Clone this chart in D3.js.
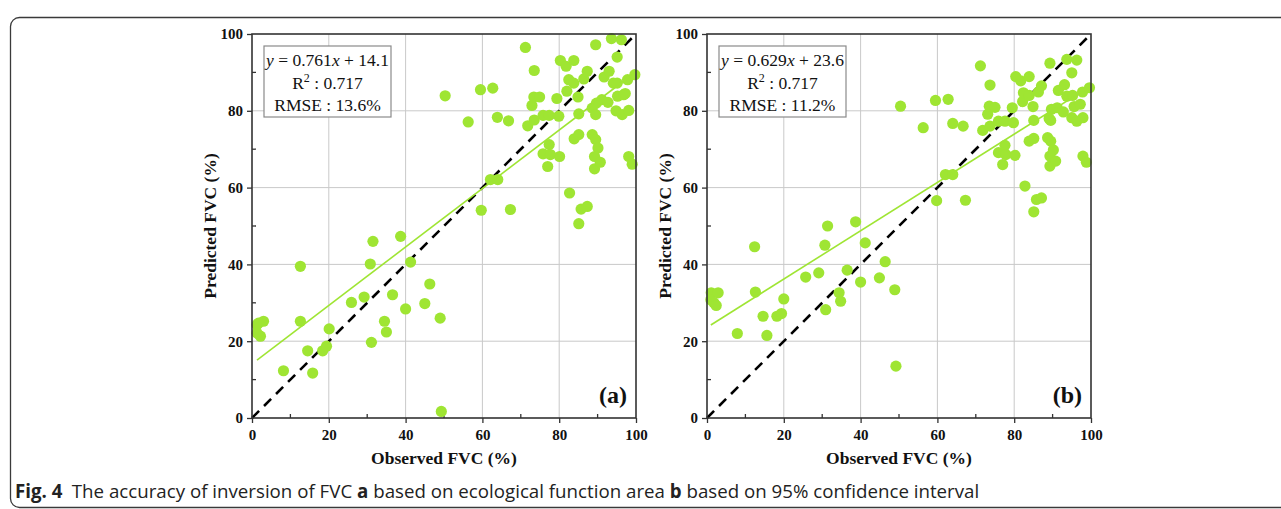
<!DOCTYPE html>
<html>
<head>
<meta charset="utf-8">
<script src="https://cdn.jsdelivr.net/npm/d3@7"></script>
<style>
  html, body { margin: 0; padding: 0; background: #fff; }
  svg { display: block; }
</style>
</head>
<body>
<svg id="chart" width="1281" height="509"></svg>
<script>
// Panel (a): ecological function area
const obsA = [1.3, 3.0, 2.2, 1.3, 1.7, 12.6, 12.6, 8.2, 14.5, 15.8, 18.4, 19.4, 20.1, 25.9, 29.2,
  30.8, 31.5, 31.1, 34.5, 35.0, 36.6, 38.7, 41.3, 40.0, 45.0, 46.3, 49.0, 49.3, 50.3, 56.3,
  59.5, 59.7, 62.7, 62.1, 64.0, 63.9, 66.8, 67.3, 71.2, 71.8, 72.9, 73.4, 73.5, 73.5, 74.9,
  75.8, 75.8, 77.0, 77.4, 77.4, 77.7, 79.4, 79.9, 80.1, 80.3, 81.8, 82.0, 82.5, 82.7, 83.8,
  83.8, 83.9, 84.9, 85.1, 85.1, 85.1, 85.7, 86.4, 87.3, 87.3, 88.6, 88.6, 89.5, 89.7, 89.5,
  89.5, 90.1, 89.2, 89.2, 90.7, 91.1, 91.7, 92.7, 93.0, 93.6, 94.1, 95.1, 95.1, 94.8, 95.2,
  96.2, 96.4, 96.8, 97.2, 97.8, 98.1, 98.1, 99.0, 99.7];
const predA = [24.3, 25.2, 21.3, 22.1, 24.7, 39.5, 25.2, 12.3, 17.5, 11.7, 17.5, 18.7, 23.2, 30.1, 31.5,
  40.1, 46.0, 19.7, 25.2, 22.4, 32.1, 47.3, 40.6, 28.4, 29.8, 34.9, 26.0, 1.7, 83.9, 77.1,
  85.5, 54.1, 85.9, 62.1, 62.1, 78.3, 77.4, 54.3, 96.5, 76.1, 81.4, 83.6, 90.5, 77.6, 83.6,
  78.8, 68.8, 65.5, 78.8, 71.2, 68.6, 83.2, 78.6, 68.1, 93.1, 91.6, 85.1, 88.1, 58.6, 93.1,
  87.2, 72.7, 83.6, 79.2, 73.8, 50.6, 54.4, 88.3, 55.1, 90.3, 73.8, 80.7, 97.2, 82.0, 79.0,
  72.5, 70.3, 68.1, 64.9, 66.6, 82.9, 88.8, 82.2, 90.3, 98.8, 87.2, 94.0, 87.2, 80.0, 83.8,
  98.5, 79.0, 84.2, 84.5, 88.1, 80.1, 68.1, 66.1, 89.4];

// Panel (b): 95% confidence interval
const obsB = [1.1, 1.8, 1.0, 2.4, 2.9, 12.4, 12.6, 7.9, 14.6, 15.6, 18.2, 19.4, 20.0, 25.7, 29.1,
  30.7, 31.4, 30.9, 34.4, 34.8, 36.5, 38.7, 41.2, 40.0, 44.9, 46.4, 48.9, 49.2, 50.4, 56.3,
  59.5, 59.8, 62.8, 62.1, 64.0, 64.0, 66.7, 67.3, 71.2, 71.8, 73.1, 73.5, 73.7, 73.7, 75.0,
  75.9, 75.9, 77.0, 77.6, 77.6, 77.8, 79.5, 79.8, 80.2, 80.4, 81.7, 82.2, 82.4, 82.8, 83.9,
  83.9, 83.9, 84.9, 85.1, 85.1, 85.1, 85.8, 86.3, 87.1, 87.1, 88.7, 89.1, 89.3, 89.7, 89.5,
  89.5, 90.2, 89.3, 89.3, 90.8, 91.2, 91.5, 92.8, 93.1, 93.7, 93.7, 95.0, 95.2, 95.0, 95.6,
  96.3, 96.3, 97.2, 97.8, 97.9, 97.9, 98.8, 99.6];
const predB = [32.6, 30.0, 30.8, 29.3, 32.6, 44.6, 32.8, 22.0, 26.5, 21.5, 26.5, 27.2, 31.0, 36.7, 37.8,
  45.0, 50.0, 28.2, 32.6, 30.4, 38.5, 51.1, 45.6, 35.4, 36.5, 40.7, 33.4, 13.5, 81.2, 75.6,
  82.7, 56.6, 83.0, 63.4, 63.4, 76.7, 76.0, 56.7, 91.7, 74.9, 79.1, 81.2, 86.7, 76.0, 80.9,
  77.3, 69.1, 66.0, 77.3, 71.0, 68.6, 80.8, 76.9, 68.4, 88.9, 87.8, 82.4, 84.7, 60.4, 88.9,
  84.0, 72.1, 81.1, 77.5, 72.8, 53.7, 56.9, 84.9, 57.3, 86.5, 73.0, 78.0, 92.4, 80.4, 77.5,
  72.1, 69.8, 68.2, 65.6, 66.9, 80.8, 85.3, 79.7, 86.8, 93.4, 83.8, 89.9, 84.0, 78.2, 81.1,
  93.2, 77.3, 81.7, 84.9, 78.2, 68.2, 66.6, 86.0];

// Fitted lines: [slope, intercept]
const fitA = [0.761, 14.1];
const fitB = [0.629, 23.6];
const statsA = ["0.761", "14.1", "0.717", "13.6%"];
const statsB = ["0.629", "23.6", "0.717", "11.2%"];
const panelLabels = ["(a)", "(b)"];
const majorTicks = [0, 20, 40, 60, 80, 100];
const minorTicks = [10, 30, 50, 70, 90];

const svg = d3.select("#chart");
const serif = "'Liberation Serif', 'Times New Roman', serif";
const dotColor = "#9fe533";

// outer figure frame
svg.append("rect")
  .attr("x", 10.5).attr("y", 17.5)
  .attr("width", 1300).attr("height", 490)
  .attr("rx", 9)
  .attr("fill", "none").attr("stroke", "#3a3a3a").attr("stroke-width", 1.3);

function drawPanel(cfg) {
  const x = d3.scaleLinear().domain([0, 100]).range([cfg.left, cfg.left + 384]);
  const y = d3.scaleLinear().domain([0, 100]).range([418, 34]);
  const g = svg.append("g");

  // grid
  g.append("g").selectAll("line.gx").data([20, 40, 60, 80]).join("line")
    .attr("x1", d => x(d)).attr("x2", d => x(d)).attr("y1", y(0)).attr("y2", y(100))
    .attr("stroke", "#c9c9c9").attr("stroke-width", 1);
  g.append("g").selectAll("line.gy").data([20, 40, 60, 80]).join("line")
    .attr("y1", d => y(d)).attr("y2", d => y(d)).attr("x1", x(0)).attr("x2", x(100))
    .attr("stroke", "#c9c9c9").attr("stroke-width", 1);

  // axes
  const xAxis = d3.axisBottom(x).tickValues(majorTicks).tickSize(5).tickPadding(6).tickFormat(d3.format("d"));
  const yAxis = d3.axisLeft(y).tickValues(majorTicks).tickSize(5).tickPadding(4).tickFormat(d3.format("d"));
  const xa = g.append("g").attr("transform", `translate(0,${y(0)})`).call(xAxis);
  const ya = g.append("g").attr("transform", `translate(${x(0)},0)`).call(yAxis);
  [xa, ya].forEach(a => {
    a.select(".domain").remove();
    a.selectAll("line").attr("stroke", "#333").attr("stroke-width", 1.3);
    a.selectAll("text").attr("font-family", serif).attr("font-weight", "bold")
      .attr("font-size", 15).attr("fill", "#111");
  });
  // minor ticks pointing inward
  g.append("g").selectAll("line").data(minorTicks).join("line")
    .attr("x1", d => x(d)).attr("x2", d => x(d)).attr("y1", y(0)).attr("y2", y(0) - 4)
    .attr("stroke", "#333").attr("stroke-width", 1.3);
  g.append("g").selectAll("line").data(minorTicks).join("line")
    .attr("y1", d => y(d)).attr("y2", d => y(d)).attr("x1", x(0)).attr("x2", x(0) + 4)
    .attr("stroke", "#333").attr("stroke-width", 1.3);

  // 1:1 line
  g.append("line")
    .attr("x1", x(0)).attr("y1", y(0)).attr("x2", x(100)).attr("y2", y(100))
    .attr("stroke", "#000").attr("stroke-width", 2.6).attr("stroke-dasharray", "10,7");

  // points
  g.append("g").selectAll("circle").data(cfg.obs.map((v, i) => [v, cfg.pred[i]])).join("circle")
    .attr("cx", d => x(d[0])).attr("cy", d => y(d[1])).attr("r", 5.6)
    .attr("fill", dotColor);

  // regression line over the observed range
  const [x0, x1] = d3.extent(cfg.obs);
  const f = v => cfg.fit[0] * v + cfg.fit[1];
  g.append("line")
    .attr("x1", x(x0)).attr("y1", y(f(x0))).attr("x2", x(x1)).attr("y2", y(f(x1)))
    .attr("stroke", dotColor).attr("stroke-width", 1.6);

  // frame
  g.append("rect")
    .attr("x", x(0)).attr("y", y(100)).attr("width", x(100) - x(0)).attr("height", y(0) - y(100))
    .attr("fill", "none").attr("stroke", "#333").attr("stroke-width", 1.6);

  // statistics box
  const bx = x(0) + 12, by = y(100) + 12;
  g.append("rect").attr("x", bx).attr("y", by).attr("width", 127).attr("height", 71)
    .attr("fill", "#fff").attr("stroke", "#8a8a8a").attr("stroke-width", 1.2);
  const cx = bx + 63.5;
  const t1 = g.append("text").attr("x", cx).attr("y", by + 20)
    .attr("text-anchor", "middle").attr("font-family", serif).attr("font-size", 17.5).attr("fill", "#111");
  t1.append("tspan").attr("font-style", "italic").text("y");
  t1.append("tspan").text(` = ${cfg.stats[0]}`);
  t1.append("tspan").attr("font-style", "italic").text("x");
  t1.append("tspan").text(` + ${cfg.stats[1]}`);
  const t2 = g.append("text").attr("x", cx).attr("y", by + 43)
    .attr("text-anchor", "middle").attr("font-family", serif).attr("font-size", 17.5).attr("fill", "#111");
  t2.append("tspan").text("R");
  t2.append("tspan").attr("font-size", 12).attr("dy", -7).text("2");
  t2.append("tspan").attr("dy", 7).text(` : ${cfg.stats[2]}`);
  g.append("text").attr("x", cx).attr("y", by + 65)
    .attr("text-anchor", "middle").attr("font-family", serif).attr("font-size", 17.5).attr("fill", "#111")
    .text(`RMSE : ${cfg.stats[3]}`);

  // panel letter
  g.append("text").attr("x", x(100) - 9).attr("y", y(0) - 15)
    .attr("text-anchor", "end").attr("font-family", serif).attr("font-weight", "bold")
    .attr("font-size", 24).attr("fill", "#111").text(cfg.label);

  // axis titles
  g.append("text").attr("x", (x(0) + x(100)) / 2).attr("y", 464)
    .attr("text-anchor", "middle").attr("font-family", serif).attr("font-weight", "bold")
    .attr("font-size", 17.5).attr("fill", "#111").text("Observed FVC (%)");
  g.append("text")
    .attr("transform", `translate(${x(0) - 36},${(y(0) + y(100)) / 2}) rotate(-90)`)
    .attr("text-anchor", "middle").attr("font-family", serif).attr("font-weight", "bold")
    .attr("font-size", 17.5).attr("fill", "#111").text("Predicted FVC (%)");
}

drawPanel({ left: 252, obs: obsA, pred: predA, fit: fitA, stats: statsA, label: panelLabels[0] });
drawPanel({ left: 707, obs: obsB, pred: predB, fit: fitB, stats: statsB, label: panelLabels[1] });

// caption, condensed horizontally to the figure's caption width
const capG = svg.append("g");
const cap = capG.append("text").attr("x", 0).attr("y", 0)
  .attr("font-family", "'Open Sans', 'Noto Sans', sans-serif").attr("font-size", 19).attr("fill", "#222");
cap.append("tspan").attr("font-weight", "bold").text("Fig. 4");
cap.append("tspan").text("\u2002The accuracy of inversion of FVC ");
cap.append("tspan").attr("font-weight", "bold").text("a");
cap.append("tspan").text(" based on ecological function area ");
cap.append("tspan").attr("font-weight", "bold").text("b");
cap.append("tspan").text(" based on 95% confidence interval");
const capW = cap.node().getComputedTextLength();
capG.attr("transform", `translate(15,498) scale(${965 / capW},1)`);
</script>
</body>
</html>
